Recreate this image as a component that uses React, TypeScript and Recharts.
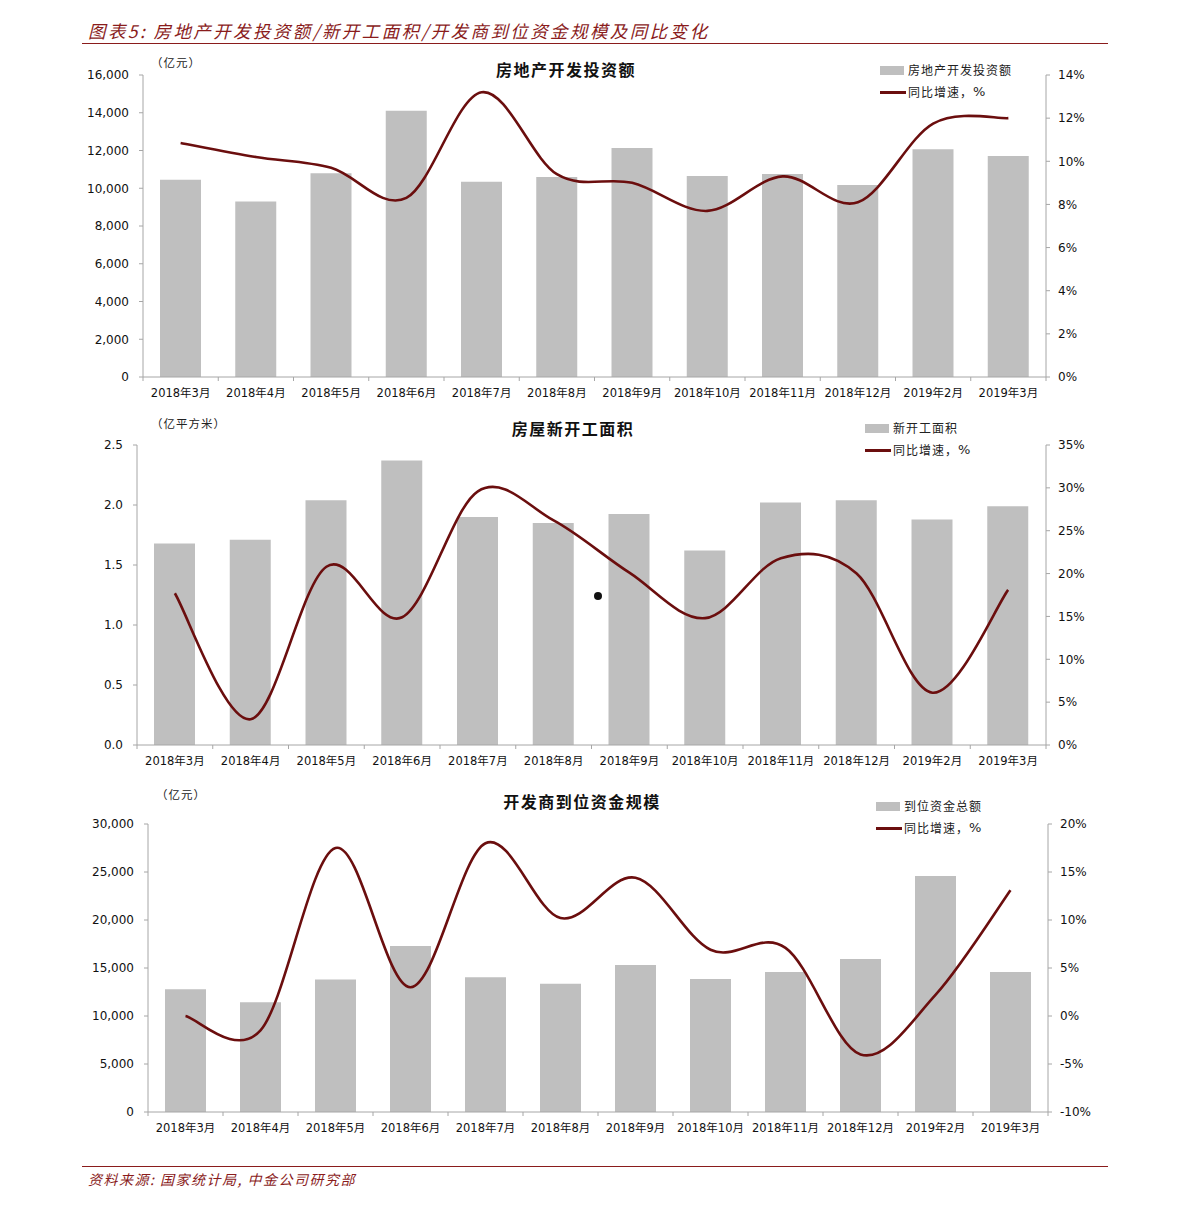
import React from "react";
import { ComposedChart, Bar, Line, XAxis, YAxis } from "recharts";

const months = [
  "2018年3月", "2018年4月", "2018年5月", "2018年6月", "2018年7月", "2018年8月",
  "2018年9月", "2018年10月", "2018年11月", "2018年12月", "2019年2月", "2019年3月",
];

// 房地产开发投资额（亿元）及同比
const investAmount = [10450, 9300, 10800, 14100, 10350, 10600, 12130, 10650, 10750, 10170, 12070, 11710];
const investYoy = [10.85, 10.2, 9.7, 8.3, 13.2, 9.4, 9.0, 7.7, 9.3, 8.1, 11.75, 12.0];

// 房屋新开工面积（亿平方米）及同比
const startsArea = [1.68, 1.71, 2.04, 2.37, 1.9, 1.85, 1.925, 1.62, 2.02, 2.04, 1.88, 1.99];
const startsYoy = [17.7, 3.0, 20.8, 14.9, 29.6, 26.2, 20.1, 14.8, 21.8, 20.0, 6.1, 18.1];

// 开发商到位资金（亿元）及同比
const fundsAmount = [12780, 11420, 13790, 17290, 14030, 13360, 15310, 13850, 14580, 15940, 24580, 14580];
const fundsYoy = [0.0, -1.5, 17.5, 3.0, 18.0, 10.2, 14.4, 6.9, 7.1, -4.0, 2.2, 13.1];

const investTicks = [0, 2000, 4000, 6000, 8000, 10000, 12000, 14000, 16000];
const investPctTicks = [0, 2, 4, 6, 8, 10, 12, 14];
const startsTicks = [0, 0.5, 1.0, 1.5, 2.0, 2.5];
const startsPctTicks = [0, 5, 10, 15, 20, 25, 30, 35];
const fundsTicks = [0, 5000, 10000, 15000, 20000, 25000, 30000];
const fundsPctTicks = [-10, -5, 0, 5, 10, 15, 20];

const RED = "#8a1c1c";
const LINE = "#6b0e0e";
const BAR = "#bfbfbf";
const AXIS = "#a6a6a6";
const NUM_FONT = "'DejaVu Sans', 'Noto Sans CJK SC', sans-serif";
const CJK_FONT = "'Noto Sans CJK SC', sans-serif";

// Excel-style smoothed line (Catmull-Rom through every point)
function excelSmooth(context: any) {
  let pts: number[][] = [];
  return {
    areaStart() {},
    areaEnd() {},
    lineStart() {
      pts = [];
    },
    point(x: number, y: number) {
      pts.push([+x, +y]);
    },
    lineEnd() {
      const n = pts.length;
      if (!n) return;
      context.moveTo(pts[0][0], pts[0][1]);
      for (let i = 0; i < n - 1; i++) {
        const p0 = pts[i - 1] || pts[i];
        const p1 = pts[i];
        const p2 = pts[i + 1];
        const p3 = pts[i + 2] || p2;
        context.bezierCurveTo(
          p1[0] + (p2[0] - p0[0]) / 6,
          p1[1] + (p2[1] - p0[1]) / 6,
          p2[0] - (p3[0] - p1[0]) / 6,
          p2[1] - (p3[1] - p1[1]) / 6,
          p2[0],
          p2[1]
        );
      }
    },
  };
}

const makeXTick = (band: number, count: number) => (props: any) => {
  const { x, y, payload, index } = props;
  const left = x - band / 2;
  const right = x + band / 2;
  return (
    <g>
      <line x1={left} y1={y} x2={left} y2={y + 4} stroke={AXIS} />
      {index === count - 1 && <line x1={right} y1={y} x2={right} y2={y + 4} stroke={AXIS} />}
      <text x={x} y={y + 16} textAnchor="middle" dominantBaseline="middle" fontSize={11.5} fontFamily={NUM_FONT} fill="#111">
        {payload.value}
      </text>
    </g>
  );
};

interface PanelProps {
  top: number;
  height: number;
  plotLeft: number;
  plotRight: number;
  plotTop: number;
  plotBottom: number;
  bars: number[];
  yoy: number[];
  leftDomain: number[];
  leftTicks: number[];
  leftFmt: (v: number) => string;
  rightDomain: number[];
  rightTicks: number[];
  title: string;
  titleX: number;
  titleY: number;
  unit: string;
  unitX: number;
  unitY: number;
  barName: string;
  legendX: number;
  legendY: number;
}

function Panel(p: PanelProps) {
  const width = 1191;
  const data = months.map((m, i) => ({ month: m, amount: p.bars[i], yoy: p.yoy[i] }));
  const band = (p.plotRight - p.plotLeft) / months.length;
  const tick = { fontSize: 12, fontFamily: NUM_FONT, fill: "#111" };
  return (
    <div style={{ position: "absolute", left: 0, top: p.top, width, height: p.height }}>
      <ComposedChart
        width={width}
        height={p.height}
        data={data}
        margin={{ top: p.plotTop, right: 0, bottom: 0, left: 0 }}
      >
        <XAxis
          dataKey="month"
          height={p.height - p.plotBottom}
          interval={0}
          tickLine={false}
          tickSize={0}
          tickMargin={0}
          axisLine={{ stroke: AXIS }}
          tick={makeXTick(band, months.length)}
        />
        <YAxis
          yAxisId="left"
          width={p.plotLeft}
          domain={p.leftDomain}
          ticks={p.leftTicks}
          interval={0}
          tickFormatter={p.leftFmt}
          tickSize={4}
          tickMargin={10}
          axisLine={{ stroke: AXIS }}
          tickLine={{ stroke: AXIS }}
          tick={tick}
        />
        <YAxis
          yAxisId="right"
          orientation="right"
          width={width - p.plotRight}
          domain={p.rightDomain}
          ticks={p.rightTicks}
          interval={0}
          tickFormatter={(v: number) => `${v}%`}
          tickSize={4}
          tickMargin={8}
          axisLine={{ stroke: AXIS }}
          tickLine={{ stroke: AXIS }}
          tick={{ ...tick, textAnchor: "start" }}
        />
        <Bar yAxisId="left" dataKey="amount" fill={BAR} barSize={41} isAnimationActive={false} />
        <Line
          yAxisId="right"
          dataKey="yoy"
          type={excelSmooth as any}
          stroke={LINE}
          strokeWidth={2.6}
          dot={false}
          activeDot={false}
          isAnimationActive={false}
        />
      </ComposedChart>
      <div
        style={{
          position: "absolute",
          left: p.titleX,
          top: p.titleY,
          transform: "translate(-50%, -50%)",
          fontFamily: CJK_FONT,
          fontWeight: 700,
          fontSize: 16,
          letterSpacing: 1.5,
          whiteSpace: "nowrap",
          color: "#111",
        }}
      >
        {p.title}
      </div>
      <div
        style={{
          position: "absolute",
          left: p.unitX,
          top: p.unitY,
          transform: "translateY(-50%)",
          fontFamily: CJK_FONT,
          fontSize: 11.5,
          letterSpacing: 1,
          whiteSpace: "nowrap",
          color: "#222",
        }}
      >
        （亿{p.unit}）
      </div>
      <div
        style={{
          position: "absolute",
          left: p.legendX,
          top: p.legendY,
          fontFamily: CJK_FONT,
          fontSize: 12,
          letterSpacing: 1,
          color: "#222",
          lineHeight: "22px",
          whiteSpace: "nowrap",
        }}
      >
        <div style={{ display: "flex", alignItems: "center" }}>
          <span style={{ display: "inline-block", width: 24, height: 9, background: BAR, marginRight: 4 }} />
          {p.barName}
        </div>
        <div style={{ display: "flex", alignItems: "center" }}>
          <span style={{ display: "inline-block", width: 26, height: 3, background: LINE, marginRight: 2 }} />
          同比增速，<span style={{ fontFamily: NUM_FONT, fontSize: 13 }}>%</span>
        </div>
      </div>
    </div>
  );
}

const commas = (v: number) => v.toLocaleString("en-US");

export default function App() {
  return (
    <div style={{ position: "absolute", left: 0, top: 0, width: 1191, height: 1207, background: "#fff", overflow: "hidden" }}>
      <div
        style={{
          position: "absolute",
          left: 88,
          top: 30,
          transform: "translateY(-50%)",
          fontFamily: CJK_FONT,
          fontStyle: "italic",
          fontSize: 17.5,
          color: RED,
          whiteSpace: "nowrap",
          letterSpacing: 2.4,
        }}
      >
        图表5: 房地产开发投资额/新开工面积/开发商到位资金规模及同比变化
      </div>
      <div style={{ position: "absolute", left: 82, top: 43, width: 1026, height: 1, background: RED }} />

      <Panel
        top={0}
        height={410}
        plotLeft={143}
        plotRight={1046}
        plotTop={75}
        plotBottom={377}
        bars={investAmount}
        yoy={investYoy}
        leftDomain={[0, 16000]}
        leftTicks={investTicks}
        leftFmt={commas}
        rightDomain={[0, 14]}
        rightTicks={investPctTicks}
        title="房地产开发投资额"
        titleX={566}
        titleY={69}
        unit="元"
        unitX={151}
        unitY={62}
        barName="房地产开发投资额"
        legendX={880}
        legendY={59}
      />

      <Panel
        top={400}
        height={380}
        plotLeft={137}
        plotRight={1046}
        plotTop={45}
        plotBottom={345}
        bars={startsArea}
        yoy={startsYoy}
        leftDomain={[0, 2.5]}
        leftTicks={startsTicks}
        leftFmt={(v: number) => v.toFixed(1)}
        rightDomain={[0, 35]}
        rightTicks={startsPctTicks}
        title="房屋新开工面积"
        titleX={573}
        titleY={28}
        unit="平方米"
        unitX={151}
        unitY={23}
        barName="新开工面积"
        legendX={865}
        legendY={17}
      />
      <div style={{ position: "absolute", left: 594, top: 592, width: 8, height: 8, borderRadius: 4, background: "#111" }} />

      <Panel
        top={780}
        height={372}
        plotLeft={148}
        plotRight={1048}
        plotTop={44}
        plotBottom={332}
        bars={fundsAmount}
        yoy={fundsYoy}
        leftDomain={[0, 30000]}
        leftTicks={fundsTicks}
        leftFmt={commas}
        rightDomain={[-10, 20]}
        rightTicks={fundsPctTicks}
        title="开发商到位资金规模"
        titleX={582}
        titleY={21}
        unit="元"
        unitX={156}
        unitY={14}
        barName="到位资金总额"
        legendX={876}
        legendY={15}
      />

      <div style={{ position: "absolute", left: 82, top: 1166, width: 1026, height: 1, background: RED }} />
      <div
        style={{
          position: "absolute",
          left: 88,
          top: 1179,
          transform: "translateY(-50%)",
          fontFamily: CJK_FONT,
          fontStyle: "italic",
          fontSize: 14,
          color: RED,
          whiteSpace: "nowrap",
          letterSpacing: 1.5,
        }}
      >
        资料来源: 国家统计局, 中金公司研究部
      </div>
    </div>
  );
}
